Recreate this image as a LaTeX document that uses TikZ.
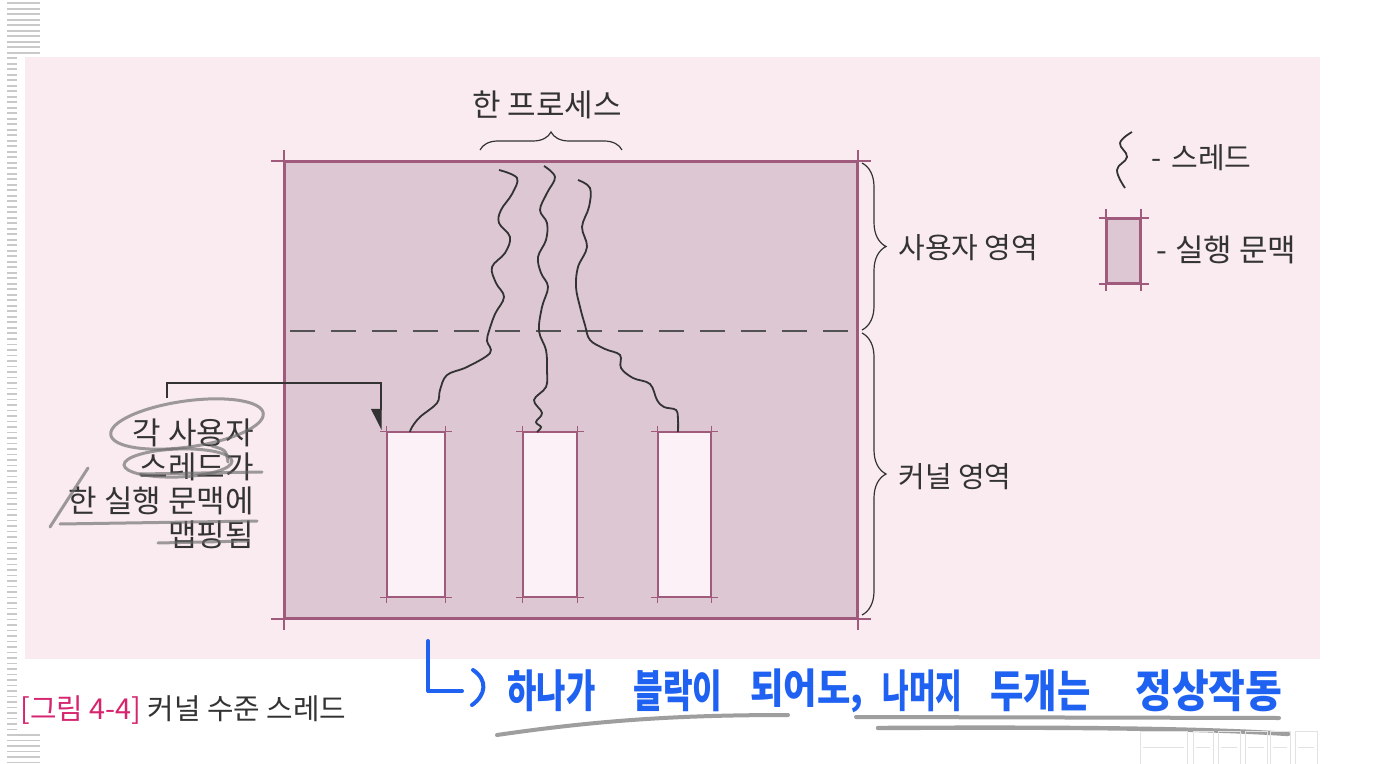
\documentclass[tikz,border=0pt]{standalone}
\usepackage{fontspec}
\setmainfont{Noto Sans CJK KR}
\usetikzlibrary{decorations.pathreplacing,arrows.meta,calc}
\definecolor{bgpink}{HTML}{FAEBF1}
\definecolor{boxfill}{HTML}{DCC7D2}
\definecolor{boxline}{HTML}{A05A7C}
\definecolor{ctxfill}{HTML}{FCF1F6}
\definecolor{txt}{HTML}{333333}
\definecolor{pencil}{HTML}{6A6A6A}
\definecolor{pen}{HTML}{1F62F2}
\definecolor{capred}{HTML}{D6246E}
\definecolor{stripe}{HTML}{C9C9C9}
\definecolor{wmark}{HTML}{E2E2E2}
\tikzset{
  lab/.style={text=txt, inner sep=0, font=\fontsize{14.5}{17}\selectfont},
  biglab/.style={text=txt, inner sep=0, font=\fontsize{15.5}{17}\selectfont},
  ctxbox/.style={draw=boxline, fill=ctxfill, line width=0.6pt, inner sep=0},
  thread/.style={txt, line width=0.9pt},
  crop/.style={boxline, line width=0.6pt},
  pencilmark/.style={pencil, line width=1.5pt, opacity=0.65, line cap=round},
  bluepen/.style={pen, line width=2pt, line cap=round, line join=round},
  handtext/.style={text=pen, inner sep=0, anchor=west, font=\bfseries},
  bracestyle/.style={txt, line width=0.6pt, decorate}
}
\begin{document}
\begin{tikzpicture}[x=0.5pt,y=-0.5pt]
\useasboundingbox (0,0) rectangle (1374,764);
\fill[white] (0,0) rectangle (1374,764);
% striped margin
\foreach \i in {0,...,138}{
  \pgfmathsetmacro\yy{3.3+5.5*\i}
  \pgfmathsetmacro\xe{ifthenelse(or(\yy<56,\yy>733),40,17)}
  \draw[stripe, line width=0.8pt] (7,\yy) -- (\xe,\yy);
}
% pink page
\fill[bgpink] (25,57) rectangle (1320,659);
% main process box
\node[draw=boxline, fill=boxfill, line width=1pt, minimum width=286pt, minimum height=228pt, inner sep=0] (proc) at (571,390) {};
\draw[crop, line width=1pt] ($(proc.north west)+(-13,0)$) -- ($(proc.north east)+(13,0)$);
\draw[crop, line width=1pt] ($(proc.south west)+(-13,0)$) -- ($(proc.south east)+(13,0)$);
\draw[crop, line width=1pt] ($(proc.north west)+(0,-11)$) -- ($(proc.south west)+(0,11)$);
\draw[crop, line width=1pt] ($(proc.north east)+(0,-11)$) -- ($(proc.south east)+(0,11)$);
% dashed boundary
\draw[txt!85, line width=0.7pt, dash pattern=on 12.5pt off 8pt] (290,331) -- (852,331);
% execution contexts
\node[ctxbox, minimum width=29pt, minimum height=82.5pt] (r1) at (416,514.5) {};
\node[ctxbox, minimum width=27pt, minimum height=82.5pt] (r2) at (550,514.5) {};
\node[ctxbox, minimum width=26.5pt, minimum height=82.5pt] (r3) at (684.5,514.5) {};
\foreach \n in {r1,r2,r3}{
  \draw[crop] ($(\n.north west)+(-6,0)$) -- ($(\n.north east)+(6,0)$);
  \draw[crop] ($(\n.south west)+(-6,0)$) -- ($(\n.south east)+(6,0)$);
  \draw[crop] ($(\n.north west)+(0,-5)$) -- ($(\n.south west)+(0,5)$);
  \draw[crop] ($(\n.north east)+(0,-5)$) -- ($(\n.south east)+(0,5)$);
}
% threads
\draw[thread] plot[smooth, tension=0.6] coordinates {(499,170) (517,178) (512,194) (501,210) (499,223) (510,237) (505,253) (492,267) (496,283) (504,297) (495,314) (489,331) (487,341) (490,353) (467,367) (447,375) (440,390) (437,403) (420,417) (412,427) (410,432)};
\draw[thread] plot[smooth, tension=0.6] coordinates {(544,166) (555,177) (547,193) (540,210) (547,223) (546,240) (538,257) (541,273) (548,287) (542,307) (539,331) (546,350) (547,370) (546,387) (534,400) (542,413) (536,422) (541,427) (537,432)};
\draw[thread] plot[smooth, tension=0.6] coordinates {(578,180) (590,188) (589,207) (582,227) (587,247) (578,267) (576,287) (580,307) (585,325) (590,340) (605,349) (620,355) (621,368) (633,378) (650,384) (657,400) (664,407) (676,410) (678,420) (678,432)};
% braces and labels
\draw[bracestyle, decoration={brace, amplitude=9pt}] (480,150) -- (622,150);
\node[biglab] (proctxt) at (547,105) {한 프로세스};
\draw[bracestyle, decoration={brace, amplitude=12pt}] (862,163) -- (862,330);
\draw[bracestyle, decoration={brace, amplitude=12pt}] (862,333) -- (862,615);
\node[lab, anchor=west] (ua) at (898,248) {사용자 영역};
\node[lab, anchor=west] (ka) at (898,477) {커널 영역};
% legend
\draw[thread] plot[smooth, tension=0.7] coordinates {(1132,132) (1120,143) (1127,157) (1117,170) (1125,188)};
\node[lab, anchor=west] (lt) at (1151,158) {-\hspace{5pt}스레드};
\node[draw=boxline, fill=boxfill, line width=0.8pt, minimum width=16.5pt, minimum height=32pt, inner sep=0] (leg) at (1123.5,251) {};
\draw[crop, line width=0.8pt] ($(leg.north west)+(-7,0)$) -- ($(leg.north east)+(8,0)$);
\draw[crop, line width=0.8pt] ($(leg.south west)+(-7,0)$) -- ($(leg.south east)+(8,0)$);
\draw[crop, line width=0.8pt] ($(leg.north west)+(0,-9)$) -- ($(leg.south west)+(0,7)$);
\draw[crop, line width=0.8pt] ($(leg.north east)+(0,-9)$) -- ($(leg.south east)+(0,7)$);
\node[biglab, anchor=west] (lc) at (1156,250) {-\hspace{4pt}실행 문맥};
% left note and its arrow
\node[biglab, anchor=east, align=right] (note) at (254,484) {각 사용자\\스레드가\\한 실행 문맥에\\맵핑됨};
\coordinate (a0) at (167,398);
\coordinate (a1) at (381,430);
\draw[txt, line width=0.6pt, -{Triangle[harpoon, swap, length=10pt, width=10pt]}] (a0) |- (381,383) -- (a1);
% pencil marks around note
\draw[pencilmark, rotate around={8:(187,424)}] (187,424) ellipse [x radius=38.5pt, y radius=11.5pt];
\draw[pencilmark, rotate around={2:(178,463)}] (178,463) ellipse [x radius=27pt, y radius=7pt];
\draw[pencilmark] (212,446) .. controls (226,450) .. (228,462);
\draw[pencilmark] (140,474) -- (262,472);
\draw[pencilmark] (50,527) -- (88,468);
\draw[pencilmark] (60,524) -- (257,521);
\draw[pencilmark] (158,543) -- (248,541);
% blue handwriting
\draw[bluepen] (428,641) -- (428,691) -- (462,691);
\draw[bluepen] (473,670) .. controls (488,680) and (486,695) .. (472,705);
\node[handtext] (w1) at (507,691) {\resizebox*{44pt}{21pt}{하나가}};
\node[handtext] (w2) at (633,691) {\resizebox*{44.5pt}{21pt}{블락이}};
\node[handtext] (w3) at (750,691) {\resizebox*{56.5pt}{22pt}{되어도,}};
\node[handtext] (w4) at (882,691) {\resizebox*{40pt}{21pt}{나머지}};
\node[handtext] (w5) at (990,691) {\resizebox*{50pt}{21pt}{두개는}};
\node[handtext] (w6) at (1135,691) {\resizebox*{73.5pt}{21pt}{정상작동}};
\draw[pencilmark, line width=2pt] (497,735) .. controls (600,720) and (680,715) .. (788,715);
\draw[pencilmark, line width=2pt] (856,717) -- (1279,718);
\draw[pencilmark, line width=2.2pt] (878,728) .. controls (1050,727) and (1200,728) .. (1288,734);
% caption
\node[inner sep=0, anchor=west, font=\fontsize{14.4}{16}\selectfont] (cap) at (20,710) {\textcolor{capred}{[그림 4-4]} \textcolor{txt}{커널 수준 스레드}};
% faint watermark boxes
\foreach \xa/\xb in {1140/1187,1193/1213,1218/1240,1245/1267,1270/1290,1295/1317}{
  \draw[wmark, line width=0.4pt] (\xa,731) rectangle (\xb,764);
  \draw[wmark, line width=0.4pt] (\xa+3,747) -- (\xb-3,747);
}
\end{tikzpicture}
\end{document}
